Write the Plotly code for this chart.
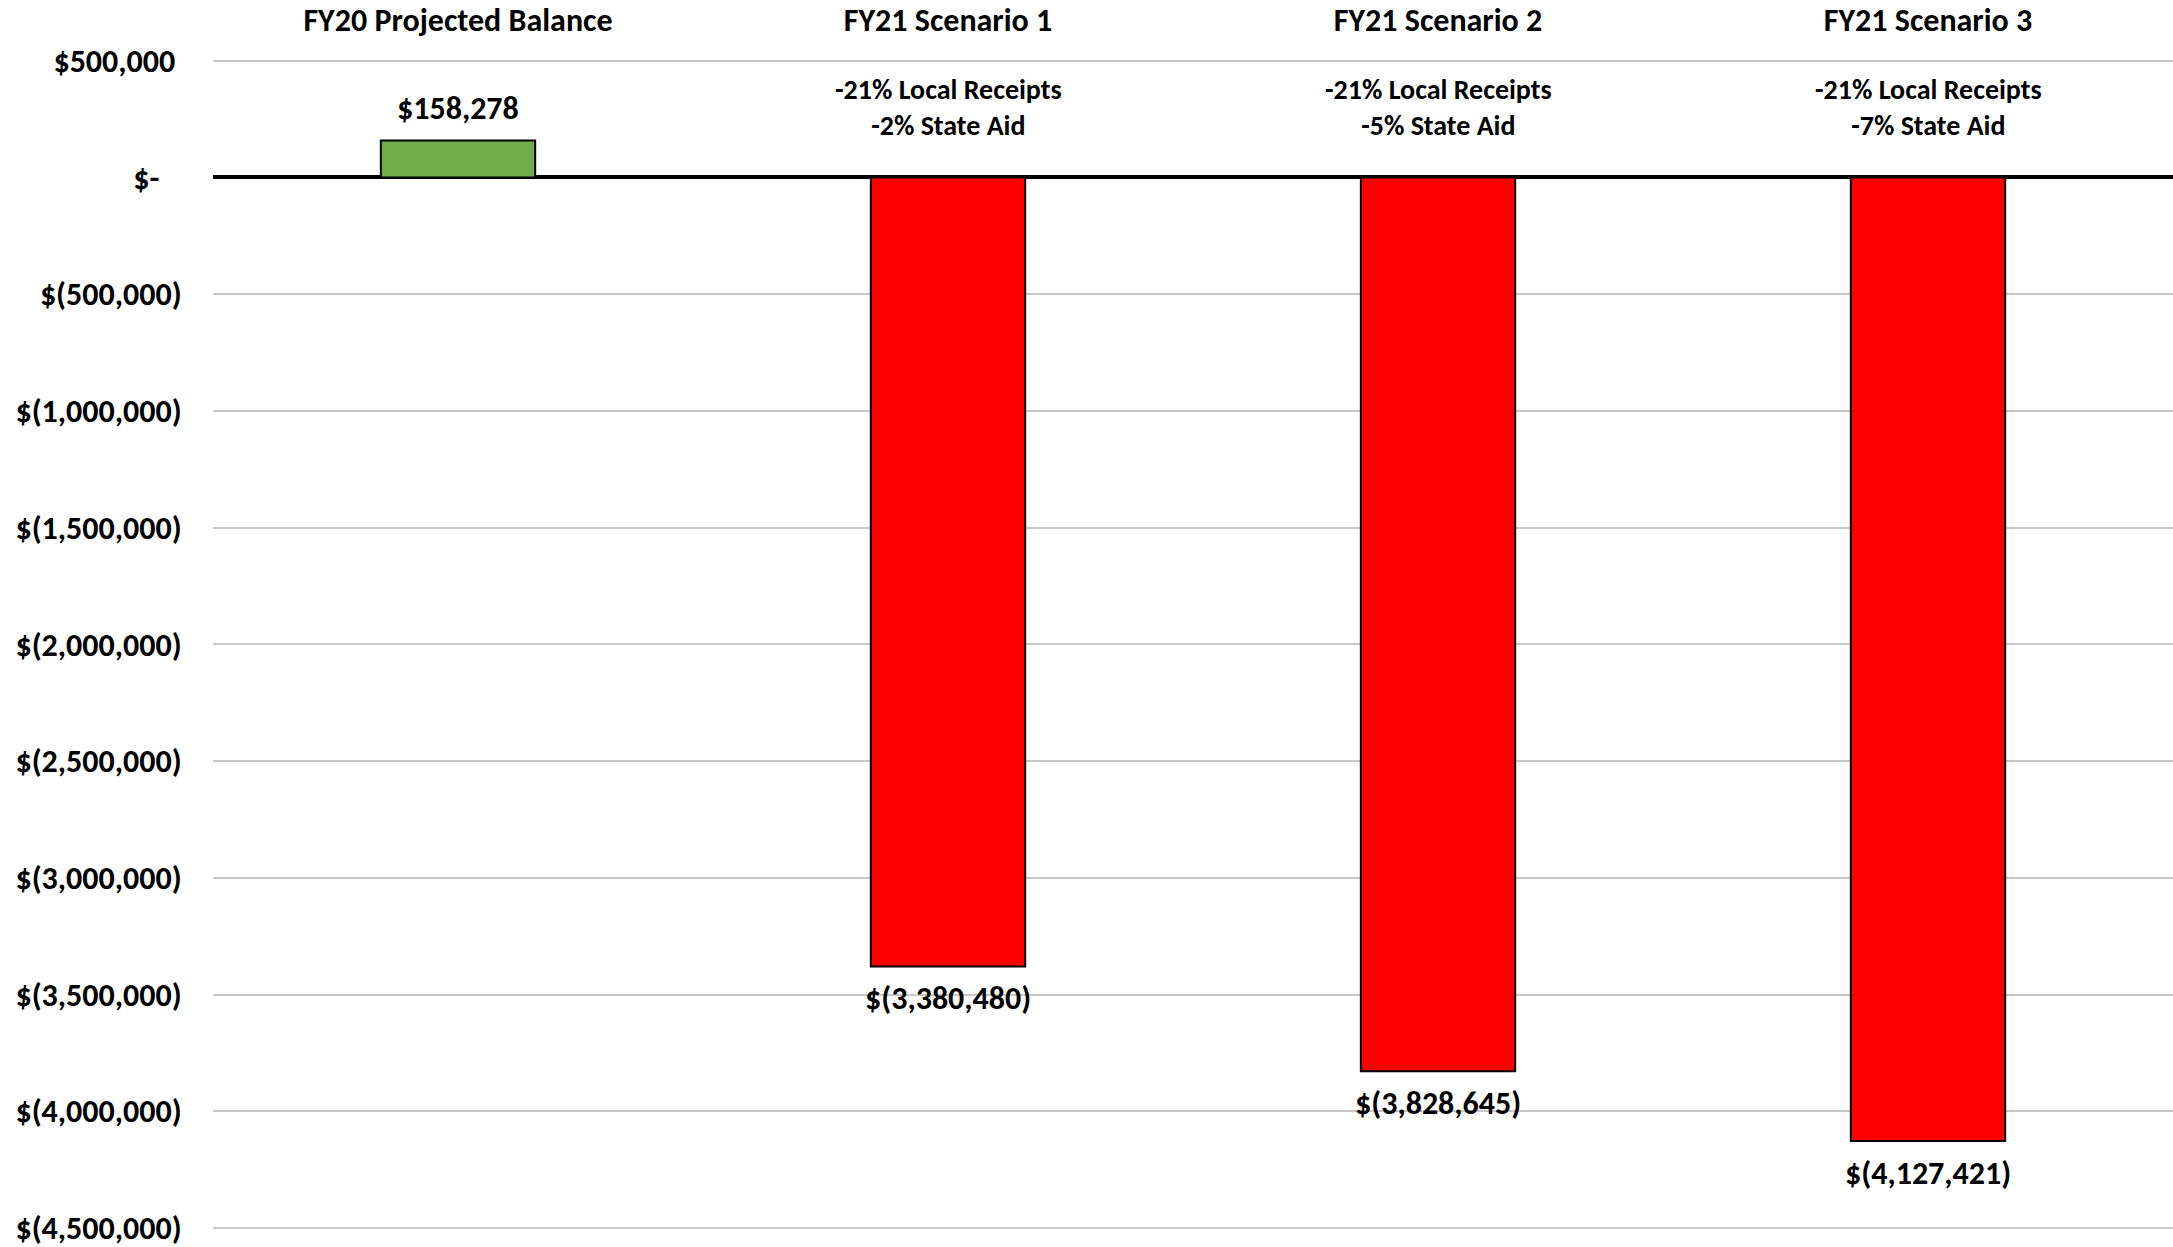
import plotly.graph_objects as go

# Fund balance outlook by scenario
categories = ["FY20 Projected Balance", "FY21 Scenario 1", "FY21 Scenario 2", "FY21 Scenario 3"]
balances = [158278, -3380480, -3828645, -4127421]
scenario_notes = [
    "",
    "-21% Local Receipts<br>-2% State Aid",
    "-21% Local Receipts<br>-5% State Aid",
    "-21% Local Receipts<br>-7% State Aid",
]
tick_values = [500000, 0, -500000, -1000000, -1500000, -2000000,
               -2500000, -3000000, -3500000, -4000000, -4500000]

FONT = "Carlito, Lato, sans-serif"
GREEN = "#70AD47"
RED = "#FF0000"


def money(v):
    """Accounting-style currency text: $1,234 or $(1,234)."""
    if v == 0:
        return "$-"
    if v < 0:
        return "$({:,})".format(-v)
    return "${:,}".format(v)


def tick_label(v):
    # positive numbers leave room for the closing paren, zero shows a dash
    if v == 0:
        return "$-\u2002\u2009"
    if v > 0:
        return money(v) + "\u2009"
    return money(v)


fig = go.Figure()
fig.add_trace(go.Bar(
    x=categories,
    y=balances,
    marker=dict(
        color=[GREEN if v >= 0 else RED for v in balances],
        line=dict(color="#000000", width=2),
    ),
    width=0.315,
    hoverinfo="skip",
))

# value labels just beyond the end of each bar
for cat, v in zip(categories, balances):
    fig.add_annotation(
        x=cat, y=v, text=money(v), showarrow=False,
        yshift=32 if v >= 0 else -32, yanchor="middle",
        font=dict(family=FONT, size=32, color="#000000", weight=700),
    )

# scenario assumptions between the top gridline and zero
for cat, note in zip(categories, scenario_notes):
    if note:
        fig.add_annotation(
            x=cat, y=300000, text=note, showarrow=False,
            yanchor="middle",
            font=dict(family=FONT, size=28, color="#000000", weight=700),
        )

fig.update_xaxes(
    side="top",
    automargin=False,
    showgrid=False,
    showline=False,
    ticks="outside",
    ticklen=11,
    tickcolor="rgba(0,0,0,0)",
    tickfont=dict(family=FONT, size=32, color="#000000", weight=700),
)
fig.update_yaxes(
    automargin=False,
    range=[-4560000, 520000],
    tickvals=tick_values,
    ticktext=[tick_label(v) for v in tick_values],
    ticklabeloverflow="allow",
    showgrid=True,
    gridcolor="#C8C8C8",
    gridwidth=2,
    zeroline=True,
    zerolinecolor="#000000",
    zerolinewidth=4,
    showline=False,
    ticks="outside",
    ticklen=24,
    tickcolor="rgba(0,0,0,0)",
    tickfont=dict(family=FONT, size=32, color="#000000", weight=700),
)
fig.update_layout(
    width=2173,
    height=1247,
    margin=dict(l=213, r=0, t=56, b=5),
    paper_bgcolor="#FFFFFF",
    plot_bgcolor="#FFFFFF",
    showlegend=False,
    bargap=0.685,
)

fig.write_html("out.html")
